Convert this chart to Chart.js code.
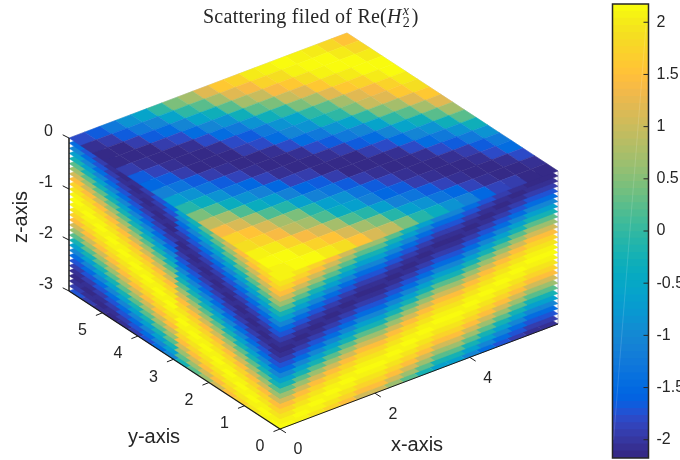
<!DOCTYPE html>
<html>
<head>
<meta charset="utf-8">
<title>Scattering filed</title>
<script src="https://cdn.jsdelivr.net/npm/chart.js@4"></script>
<style>
  html, body { margin: 0; padding: 0; background: #fff; }
  #wrap { position: relative; width: 680px; height: 460px; overflow: hidden; }
  canvas { position: absolute; top: 0; }
  #cube { left: 0; }
  #bar { left: 600px; }
</style>
</head>
<body>
<div id="wrap">
  <canvas id="cube" width="680" height="460"></canvas>
  <canvas id="bar" width="80" height="460"></canvas>
</div>
<script>
// field values, one list per face
const topValues = [1.92, 2.02, 2.1, 2.14, 2.15, 2.13, 2.07, 1.99, 1.87, 1.73, 1.56, 1.36, 1.15, 0.92, 0.68, 0.42,
  0.16, -0.1, -0.37, -0.63, -0.87, -1.1, -1.32, -1.52, -1.69, -1.84, -1.96, -2.06, -2.12, -2.15, -2.14, -2.11,
  -2.05, -1.94, -1.82, -1.66, -1.48, -1.28, -1.06, -0.82, -0.57, -0.32, -0.06, 0.21, 0.47, 0.72, 0.97, 1.19,
  1.4, 1.59, 1.76, 1.89, 2.0, 2.09, 2.13, 2.15, 2.13, 2.08, 2.0, 1.9, 1.8, 1.68, 1.55];
const leftValues = [2.15, 2.1, 1.96, 1.74, 1.44, 1.08, 0.66, 0.22, -0.22, -0.66, -1.08, -1.44, -1.74, -1.96, -2.1, -2.15,
  -2.1, -1.96, -1.74, -1.44, -1.08, -0.66, -0.22, 0.22, 0.66, 1.08, 1.44, 1.74, 1.96, 2.1, 2.15, 2.1,
  1.96, 1.74, 1.44, 1.08, 0.66, 0.22, -0.22, -0.66, -1.08, -1.44, -1.74, -1.96, -2.1, -2.15, -2.1, -1.96, -1.74];
const rightValues = [2.15, 2.1, 1.96, 1.74, 1.44, 1.08, 0.66, 0.22, -0.22, -0.66, -1.08, -1.44, -1.74, -1.96, -2.1, -2.15,
  -2.1, -1.96, -1.74, -1.44, -1.08, -0.66, -0.22, 0.22, 0.66, 1.08, 1.44, 1.74, 1.96, 2.1, 2.15, 2.1,
  1.96, 1.74, 1.44, 1.08, 0.66, 0.22, -0.22, -0.66, -1.08, -1.44, -1.74, -1.96, -2.1];
// how far along the value lists each grid column sits
const topXSteps = [1, 2, 4, 6, 7, 9, 11, 12, 14, 16, 17, 19, 20, 22, 24, 25, 27, 29];
const topYSteps = [1, 3, 5, 7, 8, 10, 12, 14, 16, 18, 20, 22, 23, 25, 27, 29, 31, 33];
const sideXSteps = [0, 1, 2, 3, 4, 5, 5, 6, 7, 8, 9, 9, 10, 11, 12, 13, 14, 14];
const sideYSteps = [0, 1, 2, 3, 4, 5, 6, 7, 8, 10, 11, 12, 13, 14, 15, 16, 17, 18];

const layerCount = 31;
const layerStep = 0.1;
const xMax = 5.86;
const yMax = 5.94;
const xTicks = [0, 2, 4];
const yTicks = [0, 1, 2, 3, 4, 5];
const zTicks = [0, -1, -2, -3];
const barTicks = [-2, -1.5, -1, -0.5, 0, 0.5, 1, 1.5, 2];
const barMin = -2.175;
const barMax = 2.175;

const parula = [
  [.2081,.1663,.5292],[.2116,.1898,.5777],[.2123,.2138,.6270],[.2081,.2386,.6771],[.1959,.2645,.7279],[.1707,.2919,.7792],
  [.1253,.3242,.8303],[.0591,.3598,.8683],[.0117,.3875,.8820],[.0060,.4086,.8828],[.0165,.4266,.8786],[.0329,.4430,.8720],
  [.0498,.4586,.8641],[.0629,.4737,.8554],[.0723,.4887,.8467],[.0779,.5040,.8384],[.0793,.5200,.8312],[.0749,.5375,.8263],
  [.0641,.5570,.8240],[.0488,.5772,.8228],[.0343,.5966,.8199],[.0265,.6137,.8135],[.0239,.6287,.8038],[.0231,.6418,.7913],
  [.0228,.6535,.7768],[.0267,.6642,.7607],[.0384,.6743,.7436],[.0590,.6838,.7254],[.0843,.6928,.7062],[.1133,.7015,.6859],
  [.1453,.7098,.6646],[.1801,.7177,.6424],[.2178,.7250,.6193],[.2586,.7317,.5954],[.3022,.7376,.5712],[.3482,.7424,.5473],
  [.3953,.7459,.5244],[.4420,.7481,.5033],[.4871,.7491,.4840],[.5300,.7491,.4661],[.5709,.7485,.4494],[.6099,.7473,.4337],
  [.6473,.7456,.4188],[.6834,.7435,.4044],[.7184,.7411,.3905],[.7525,.7384,.3768],[.7858,.7356,.3633],[.8185,.7327,.3498],
  [.8507,.7299,.3360],[.8824,.7274,.3217],[.9139,.7258,.3063],[.9450,.7261,.2886],[.9739,.7314,.2666],[.9938,.7455,.2403],
  [.9990,.7653,.2164],[.9955,.7861,.1967],[.9880,.8066,.1794],[.9789,.8271,.1633],[.9697,.8481,.1475],[.9626,.8705,.1309],
  [.9589,.8949,.1132],[.9598,.9218,.0948],[.9661,.9514,.0755],[.9763,.9831,.0538]
];

const textColor = "#262626";
const labelFont = "16px 'Liberation Sans'";
const titleFont = "20px 'Liberation Serif'";

function colorOf(index) {
  const c = parula[index];
  return "rgb(" + Math.round(c[0] * 255) + "," + Math.round(c[1] * 255) + "," + Math.round(c[2] * 255) + ")";
}

function valueColor(v) {
  let index = Math.floor((v - barMin) / (barMax - barMin) * parula.length);
  index = Math.max(0, Math.min(parula.length - 1, index));
  return colorOf(index);
}

// oblique view of the box, gives a point on the chart's x and y scales
function project(x, y, z) {
  return {
    x: 280 + x * 278 / xMax - y * 211 / yMax,
    y: 276 - x * 105 / xMax - y * 138 / yMax - z * 51
  };
}

function cellDataset(i, j, z, value) {
  const dx = xMax / topXSteps.length;
  const dy = yMax / topYSteps.length;
  const color = valueColor(value);
  return {
    data: [
      project(i * dx, j * dy, z),
      project((i + 1) * dx, j * dy, z),
      project((i + 1) * dx, (j + 1) * dy, z),
      project(i * dx, (j + 1) * dy, z),
      project(i * dx, j * dy, z)
    ],
    backgroundColor: color,
    borderColor: color,
    borderWidth: 0.5,
    fill: "shape",
    pointRadius: 0,
    tension: 0
  };
}

function lineDataset(a, b, color, width) {
  return { data: [a, b], borderColor: color, borderWidth: width, fill: false, pointRadius: 0, tension: 0 };
}

const cubeDatasets = [];
const axisColor = "#1a1a1a";

// axis lines and ticks go first so they end up on top
cubeDatasets.push(lineDataset(project(0, yMax, 0), project(0, yMax, -3), axisColor, 1.5));
cubeDatasets.push(lineDataset(project(0, yMax, -3), project(0, 0, -3), axisColor, 1.2));
cubeDatasets.push(lineDataset(project(0, 0, -3), project(xMax, 0, -3), axisColor, 1));
xTicks.forEach(function (t) {
  const p = project(t, 0, -3);
  cubeDatasets.push(lineDataset(p, { x: p.x + 5.9, y: p.y + 3.8 }, axisColor, 1));
});
yTicks.forEach(function (t) {
  const p = project(0, t, -3);
  cubeDatasets.push(lineDataset(p, { x: p.x - 6.5, y: p.y + 2.6 }, axisColor, 1));
});
zTicks.forEach(function (t) {
  const p = project(0, yMax, t);
  cubeDatasets.push(lineDataset(p, { x: p.x - 6.3, y: p.y - 3.2 }, axisColor, 1));
});

// top slice, all of its cells show
topXSteps.forEach(function (xs, i) {
  topYSteps.forEach(function (ys, j) {
    cubeDatasets.push(cellDataset(i, j, 0, topValues[xs + ys]));
  });
});

// lower slices are only seen along their two front rows
for (let layer = 1; layer < layerCount; layer++) {
  const z = -layer * layerStep;
  sideYSteps.forEach(function (ys, j) {
    cubeDatasets.push(cellDataset(0, j, z, leftValues[layer + ys]));
  });
  sideXSteps.forEach(function (xs, i) {
    cubeDatasets.push(cellDataset(i, 0, z, rightValues[layer + xs]));
  });
}

// faint rim on the far edges
cubeDatasets.push(lineDataset(project(xMax, 0, 0), project(xMax, 0, -3), "#d0d0dc", 1));
cubeDatasets.push(lineDataset(project(xMax, 0, 0), project(xMax, yMax, 0), "#d8d8d8", 1));
cubeDatasets.push(lineDataset(project(0, yMax, 0), project(xMax, yMax, 0), "#d8d8d8", 1));

const cubeText = {
  id: "cubeText",
  afterDatasetsDraw: function (chart) {
    const ctx = chart.ctx;
    ctx.save();
    ctx.fillStyle = textColor;
    ctx.font = labelFont;
    ctx.textAlign = "center";
    ctx.textBaseline = "middle";
    xTicks.forEach(function (t) {
      const p = project(t, 0, -3);
      ctx.fillText(String(t), p.x + 18, p.y + 21);
    });
    yTicks.forEach(function (t) {
      const p = project(0, t, -3);
      ctx.fillText(String(t), p.x - 20, p.y + 18);
    });
    ctx.textAlign = "right";
    zTicks.forEach(function (t) {
      const p = project(0, yMax, t);
      ctx.fillText(String(t), p.x - 16, p.y - 6);
    });

    ctx.textAlign = "center";
    ctx.font = "20px 'Liberation Sans'";
    ctx.fillText("x-axis", 417, 445);
    ctx.fillText("y-axis", 154, 437);
    ctx.save();
    ctx.translate(21, 217);
    ctx.rotate(-Math.PI / 2);
    ctx.fillText("z-axis", 0, 0);
    ctx.restore();

    // title with its small math parts
    ctx.textAlign = "left";
    ctx.textBaseline = "alphabetic";
    ctx.letterSpacing = "0.25px";
    ctx.font = titleFont;
    let x = 203;
    ctx.fillText("Scattering filed of Re(", x, 23);
    x += ctx.measureText("Scattering filed of Re(").width;
    ctx.font = "italic " + titleFont;
    ctx.fillText("H", x, 23);
    x += ctx.measureText("H").width + 1;
    ctx.font = "14px 'Liberation Serif'";
    ctx.fillText("2", x, 27);
    ctx.font = "italic 14px 'Liberation Serif'";
    ctx.fillText("x", x, 15);
    x += 9;
    ctx.font = titleFont;
    ctx.fillText(")", x, 23);
    ctx.restore();
  }
};

new Chart(document.getElementById("cube"), {
  type: "line",
  data: { datasets: cubeDatasets },
  options: {
    responsive: false,
    animation: false,
    events: [],
    layout: { padding: 0 },
    plugins: { legend: { display: false }, tooltip: { enabled: false } },
    scales: {
      x: { type: "linear", display: false, min: 0, max: 680 },
      y: { type: "linear", display: false, min: 0, max: 460, reverse: true }
    }
  },
  plugins: [cubeText]
});

// colour bar, one floating bar per colour, a bit of overlap hides the seams
const barDatasets = parula.map(function (c, index) {
  const step = (barMax - barMin) / parula.length;
  return {
    data: [[barMin + (index - 0.5) * step, barMin + (index + 1) * step]],
    backgroundColor: colorOf(index),
    borderWidth: 0,
    barPercentage: 1,
    categoryPercentage: 1
  };
});

const barFrame = {
  id: "barFrame",
  afterDraw: function (chart) {
    const ctx = chart.ctx;
    const area = chart.chartArea;
    const scale = chart.scales.y;
    ctx.save();
    // light streak that runs down the bar
    ctx.strokeStyle = "rgba(255,255,255,0.14)";
    ctx.lineWidth = 1;
    ctx.beginPath();
    ctx.moveTo(area.left + 0.93 * (area.right - area.left), scale.getPixelForValue(1.97));
    ctx.lineTo(area.left + 0.03 * (area.right - area.left), scale.getPixelForValue(-2.0));
    ctx.stroke();
    ctx.strokeStyle = "#262626";
    ctx.lineWidth = 1.5;
    ctx.strokeRect(area.left, area.top, area.right - area.left, area.bottom - area.top);
    ctx.lineWidth = 1;
    barTicks.forEach(function (t) {
      const y = scale.getPixelForValue(t);
      ctx.beginPath();
      ctx.moveTo(area.right, y);
      ctx.lineTo(area.right - 5, y);
      ctx.stroke();
    });
    ctx.restore();
  }
};

new Chart(document.getElementById("bar"), {
  type: "bar",
  data: { labels: [""], datasets: barDatasets },
  options: {
    responsive: false,
    animation: false,
    events: [],
    layout: { padding: { left: 12.5, top: 4, bottom: 2, right: 0 } },
    plugins: { legend: { display: false }, tooltip: { enabled: false } },
    scales: {
      x: { display: false },
      y: {
        position: "right",
        min: barMin,
        max: barMax,
        afterBuildTicks: function (scale) {
          scale.ticks = barTicks.map(function (t) { return { value: t }; });
        },
        afterFit: function (scale) {
          scale.width = 31.5;
          scale.paddingTop = 0;
          scale.paddingBottom = 0;
        },
        grid: { drawOnChartArea: false, drawTicks: false },
        border: { display: false },
        ticks: {
          autoSkip: false,
          padding: 8,
          color: textColor,
          font: { family: "'Liberation Sans'", size: 16 },
          callback: function (v) { return String(v); }
        }
      }
    },
    datasets: { bar: { grouped: false } }
  },
  plugins: [barFrame]
});
</script>
</body>
</html>
